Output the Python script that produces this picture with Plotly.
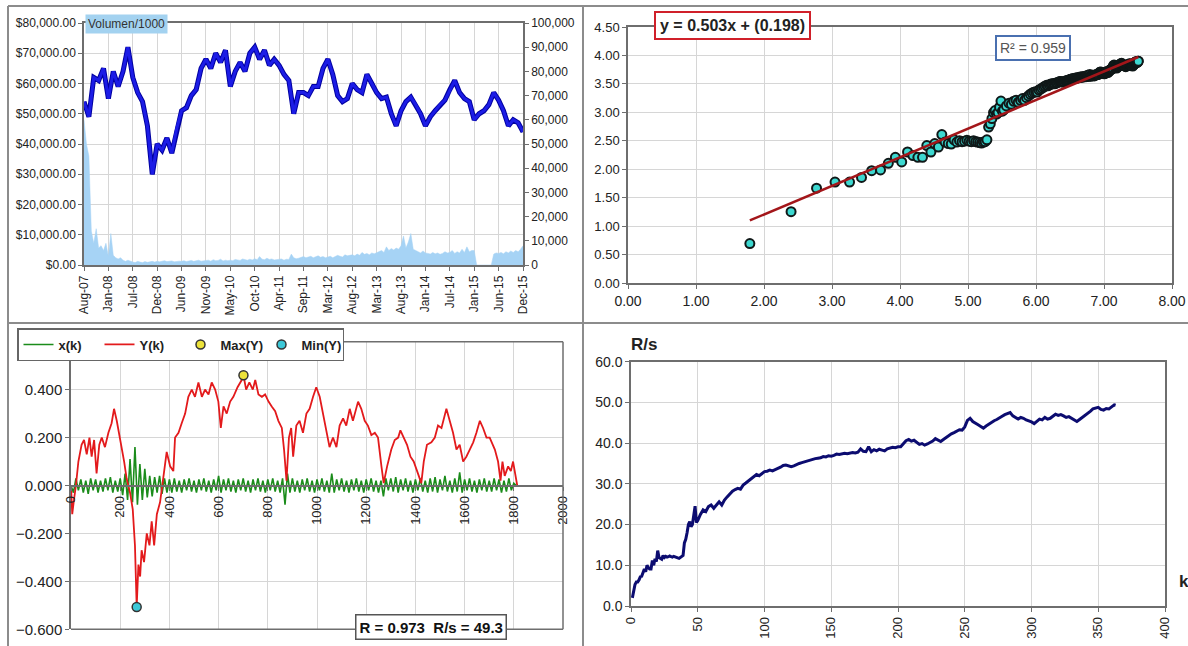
import numpy as np
import plotly.graph_objects as go

W, H = 1188, 646

# ---------------- Panel 1: price & volume ----------------
date_labels = ["Aug-07", "Jan-08", "Jul-08", "Dec-08", "Jun-09", "Nov-09", "May-10", "Oct-10",
               "Apr-11", "Sep-11", "Mar-12", "Aug-12", "Mar-13", "Aug-13", "Jan-14", "Jul-14",
               "Jan-15", "Jun-15", "Dec-15"]

# price, sampled every 0.2 of a tick interval
price = [54000, 49000, 62000, 61000, 65000, 55000, 64000, 59000, 64000, 72000,
         62000, 57000, 54000, 46000, 30000, 40000, 38000, 42000, 37000, 45000,
         51000, 52000, 56000, 58000, 65000, 68000, 65000, 70000, 67000, 71000,
         59000, 64000, 67000, 64000, 70000, 72000, 68000, 71000, 66000, 68000,
         66000, 63000, 61000, 50000, 57000, 57000, 56000, 59000, 59000, 65000,
         68000, 63000, 56000, 54000, 55000, 60000, 58000, 57000, 63000, 60000,
         57000, 55000, 55500, 50000, 46000, 51000, 54000, 55500, 53000, 50000,
         46000, 49000, 51000, 53000, 54500, 58000, 61000, 57000, 55000, 54000,
         48000, 50000, 51000, 53000, 57000, 54500, 51000, 46000, 48000, 47000,
         44000]

# volume / 1000, sampled every 0.1 of a tick interval (right axis)
volume = [60000, 50000, 45000, 14000, 9000, 15000, 7000, 8000, 6000, 9000,
          3500, 13000, 4000, 3000, 2500, 3000, 2000, 1500, 2000, 1500,
          1200, 1000, 1500, 1200, 1000, 1400, 1100, 1300, 1500, 1200,
          1500, 1300, 1600, 1800, 1400, 1500, 1700, 1300, 1500, 1600,
          1500, 1800, 1400, 1600, 1900, 1500, 1700, 2000, 1600, 1800,
          1700, 2000, 1600, 2200, 1800, 1900, 2400, 1700, 2000, 1800,
          2000, 1800, 2300, 2100, 1900, 2500, 2200, 2000, 2400, 2100,
          2600, 2200, 3500, 2400, 2200, 2800, 2300, 2500, 2100, 2300,
          2200, 2500, 2000, 2400, 2300, 4500, 3000, 2600, 2800, 3200,
          3500, 3000, 3200, 3600, 3000, 3400, 3800, 3200, 3500, 3000,
          3200, 3600, 3000, 3500, 4000, 3600, 3300, 4200, 3800, 4000,
          4200, 3800, 4500, 4000, 5200, 4400, 4800, 4200, 5000, 4600,
          5000, 5500, 6000, 5200, 7500, 6000, 6800, 6200, 7000, 6500,
          8000, 12000, 7000, 9500, 13000, 6500, 6000, 5500, 5000, 5800,
          5000, 4800, 4500, 5200, 4600, 5000, 4400, 4800, 5500, 5000,
          5200, 6000, 4800, 5500, 5000, 6500, 5200, 7500, 5500, 6000,
          6000, 0, 0, 0, 0, 0, 0, 0, 4500, 5000,
          4800, 5200, 4600, 5500, 5000, 5800, 5200, 6000, 5500, 6500,
          8000]

price_pos = np.arange(len(price)) / 5.0
vol_pos = np.arange(len(volume)) / 10.0

# ---------------- Panel 4 (and 2): R/s by k ----------------
rs_k = [1, 2, 3, 4, 5, 6, 7, 8, 9, 10, 11, 12, 13, 14, 15, 16, 17, 18, 19, 20,
        21, 22, 23, 24, 25, 26, 27, 28, 29, 30, 31, 32, 33, 34, 35, 36, 37, 38, 39, 40,
        41, 42, 43, 44, 45, 46, 47, 48, 49,
        50, 52, 54, 56, 58, 60, 62, 64, 66, 68,
        70, 72, 74, 76, 78, 80, 82, 84, 86, 88,
        90, 92, 94, 96, 98, 100, 102, 104, 106, 108,
        110, 112, 114, 116, 118, 120, 122, 124, 126, 128,
        130, 132, 134, 136, 138, 140, 142, 144, 146, 148,
        150, 152, 154, 156, 158, 160, 162, 164, 166, 168,
        170, 172, 174, 176, 178, 180, 182, 184, 186, 188,
        190, 192, 194, 196, 198, 200, 202, 204, 206, 208,
        210, 212, 214, 216, 218, 220, 222, 224, 226, 228,
        230, 232, 234, 236, 238, 240, 242, 244, 246, 248,
        250, 252, 254, 256, 258, 260, 262, 264, 266, 268,
        270, 272, 274, 276, 278, 280, 282, 284, 286, 288,
        290, 292, 294, 296, 298, 300, 302, 304, 306, 308,
        310, 312, 314, 316, 318, 320, 322, 324, 326, 328,
        330, 332, 334, 336, 338, 340, 342, 344, 346, 348,
        350, 352, 354, 356, 358, 360, 362, 363]
rs_val = [2.0, 3.5, 5.3, 5.9, 5.9, 6.4, 7.2, 7.3, 8.2, 9.1,
          8.4, 10.0, 9.4, 9.1, 9.1, 11.2, 10.0, 11.6, 10.9, 13.6,
          11.9, 11.6, 11.5, 12.4, 11.9, 12.2, 12.0, 12.1, 12.3, 12.1,
          12.0, 12.2, 12.0, 11.9, 11.8, 11.7, 11.9, 12.0, 12.4, 15.5,
          16.4, 18.0, 20.0, 20.7, 19.5, 20.0, 22.0, 24.5, 20.5,
          21.0, 22.5, 23.6, 23.2, 24.4, 24.8, 24.0, 24.8, 25.6, 24.8,
          26.0, 26.8, 27.6, 28.2, 28.6, 28.9, 28.7, 29.7, 30.2, 30.7,
          31.3, 31.8, 32.3, 32.0, 32.6, 33.0, 33.1, 33.4, 33.2, 33.6,
          33.8, 34.1, 34.5, 34.6, 34.3, 34.2, 34.4, 34.8, 35.0, 35.2,
          35.4, 35.6, 35.9, 36.1, 36.2, 36.3, 36.4, 36.7, 36.6, 36.9,
          36.8, 37.0, 37.3, 37.2, 37.4, 37.5, 37.4, 37.6, 37.7, 37.6,
          37.8, 38.6, 38.0, 37.9, 39.1, 37.9, 38.4, 38.1, 38.5, 38.3,
          38.1, 38.6, 38.9, 39.0, 38.9, 39.1, 39.1, 39.8, 40.6, 40.9,
          40.5, 40.7, 40.2, 39.7, 39.9, 39.5, 39.8, 40.1, 40.5, 41.1,
          40.8, 40.4, 40.9, 41.4, 41.9, 42.3, 42.6, 43.0, 43.3, 43.2,
          44.0, 45.6, 46.1, 45.3, 45.0, 44.5, 44.1, 43.7, 44.2, 44.7,
          45.0, 45.5, 45.8, 46.1, 46.6, 47.0, 47.3, 47.5, 46.7, 46.2,
          45.9, 46.3, 46.1, 45.7, 45.5, 45.2, 44.8, 45.4, 45.9, 45.7,
          46.3, 45.9, 46.1, 46.6, 47.1, 46.8, 47.0, 46.7, 46.3, 46.5,
          46.1, 45.7, 45.3, 45.8, 46.3, 46.6, 47.1, 47.8, 48.4, 48.6,
          48.8, 48.3, 48.1, 48.5, 48.4, 48.9, 49.4, 49.3]

# ---------------- Panel 2: log-log regression ----------------
slope, intercept = 0.503, 0.198
window_n = 5 * np.array(rs_k) + 1          # sample size for each k
ln_n = np.log(window_n)
ln_rs = np.log(np.array(rs_val))
trend_x = [ln_n.min(), ln_n.max()]
trend_y = [slope * v + intercept for v in trend_x]

# ---------------- Panel 3: x(k) and Y(k) ----------------
xk = [0.00, -0.03, 0.03, -0.02, 0.025, -0.03, 0.02, -0.035, 0.03, -0.02,
      0.025, -0.03, 0.02, -0.025, 0.03, -0.02, 0.035, -0.03, 0.02, -0.025,
      0.03, -0.04, 0.05, -0.06, 0.11, -0.07, 0.16, -0.08, 0.09, -0.06,
      0.07, -0.05, 0.04, -0.045, 0.035, -0.03, 0.04, -0.035, 0.03, -0.03,
      0.025, -0.03, 0.03, -0.025, 0.02, -0.03, 0.025, -0.02, 0.03, -0.025,
      0.02, -0.03, 0.025, -0.02, 0.03, -0.025, 0.02, -0.03, 0.025, -0.02,
      0.04, -0.03, 0.025, -0.02, 0.03, -0.025, 0.02, -0.03, 0.025, -0.02,
      0.03, -0.025, 0.02, -0.03, 0.025, -0.02, 0.03, -0.025, 0.02, -0.03,
      0.025, -0.02, 0.03, -0.025, 0.02, -0.03, 0.03, -0.08, 0.05, -0.03,
      0.03, -0.025, 0.02, -0.03, 0.025, -0.02, 0.03, -0.025, 0.02, -0.03,
      0.025, -0.02, 0.03, -0.025, 0.02, -0.03, 0.05, -0.03, 0.025, -0.02,
      0.03, -0.025, 0.02, -0.03, 0.025, -0.02, 0.03, -0.025, 0.02, -0.03,
      0.025, -0.02, 0.03, -0.025, 0.02, -0.03, 0.02, -0.045, 0.03, -0.02,
      0.03, -0.025, 0.035, -0.03, 0.025, -0.02, 0.03, -0.025, 0.02, -0.03,
      0.025, -0.02, 0.03, -0.025, 0.02, -0.03, 0.03, -0.025, 0.035, -0.03,
      0.025, -0.02, 0.04, -0.025, 0.02, -0.03, 0.03, -0.025, 0.055, -0.03,
      0.025, -0.02, 0.03, -0.025, 0.02, -0.03, 0.025, -0.02, 0.03, -0.025,
      0.02, -0.025, 0.03, -0.02, 0.025, -0.03, 0.02, -0.025, 0.03, -0.02,
      0.01, 0.0]
xk_pos = np.arange(len(xk)) * 10

Yk_x = [0, 5, 12, 20, 30, 43, 53, 64, 75, 84,
        94, 104, 115, 125, 138, 152, 165, 175, 186, 199,
        216, 226, 240, 251, 260, 267, 274, 281, 287, 297,
        308, 319, 328, 338, 349, 362, 376, 389, 403, 416,
        423, 437, 450, 464, 477, 491, 504, 518, 532, 545,
        559, 572, 586, 599, 609, 620, 633, 647, 660, 677,
        694, 701, 712, 725, 739, 749, 762, 776, 789, 803,
        816, 830, 843, 857, 866, 876, 886, 895, 903, 916,
        929, 943, 957, 970, 984, 997, 1011, 1024, 1038, 1051,
        1065, 1079, 1092, 1106, 1119, 1133, 1146, 1167, 1180, 1194,
        1207, 1221, 1235, 1248, 1262, 1271, 1285, 1302, 1316, 1330,
        1339, 1353, 1366, 1380, 1393, 1407, 1424, 1434, 1447, 1465,
        1479, 1492, 1506, 1526, 1540, 1553, 1567, 1580, 1594, 1607,
        1621, 1635, 1648, 1662, 1675, 1689, 1702, 1723, 1736, 1746,
        1754, 1763, 1777, 1788, 1797, 1808, 1814]
Yk_y = [0.0, -0.12, -0.06, 0.0, 0.10, 0.17, 0.19, 0.13, 0.20, 0.12,
        0.19, 0.05, 0.17, 0.20, 0.16, 0.22, 0.26, 0.32, 0.27, 0.20,
        0.10, 0.03, -0.03, -0.10, -0.25, -0.507, -0.33, -0.38, -0.27, -0.32,
        -0.20, -0.25, -0.15, -0.25, -0.12, -0.07, 0.03, 0.14, 0.08, 0.06,
        0.20, 0.22, 0.26, 0.30, 0.37, 0.40, 0.37, 0.43, 0.37, 0.40,
        0.38, 0.43, 0.40, 0.35, 0.24, 0.33, 0.30, 0.35, 0.37, 0.41,
        0.44, 0.46, 0.40, 0.43, 0.40, 0.44, 0.38, 0.37, 0.38, 0.35,
        0.33, 0.31, 0.27, 0.24, 0.15, 0.02, 0.20, 0.24, 0.12, 0.25,
        0.27, 0.22, 0.30, 0.32, 0.37, 0.41, 0.37, 0.30, 0.22, 0.16,
        0.20, 0.16, 0.25, 0.28, 0.25, 0.32, 0.27, 0.35, 0.32, 0.27,
        0.25, 0.21, 0.22, 0.20, 0.08, 0.01, 0.08, 0.15, 0.19, 0.20,
        0.23, 0.20, 0.17, 0.12, 0.10, 0.06, 0.01, 0.10, 0.17, 0.18,
        0.20, 0.25, 0.24, 0.32, 0.27, 0.22, 0.15, 0.17, 0.10, 0.12,
        0.15, 0.18, 0.22, 0.27, 0.24, 0.20, 0.20, 0.15, 0.10, 0.02,
        0.10, 0.04, 0.08, 0.06, 0.10, 0.03, 0.0]
max_pt = ([701], [0.46])
min_pt = ([267], [-0.507])

# ---------------- styling ----------------
FONT = "Liberation Sans, Arial, sans-serif"
AX = "#6e6e6e"
GRID = "#d6d6d6"
TXT = "#222222"


def ax(**kw):
    base = dict(showline=True, linecolor=AX, linewidth=1.5, ticks="outside", ticklen=4,
                tickcolor=AX, zeroline=False, showgrid=True, gridcolor=GRID, gridwidth=1,
                tickfont=dict(family=FONT, size=12, color=TXT))
    base.update(kw)
    return base


fig = go.Figure()

# Panel 1
fig.add_trace(go.Scatter(x=vol_pos, y=volume, xaxis="x", yaxis="y", mode="lines",
                         line=dict(color="#a6d3f5", width=0.5), fill="tozeroy",
                         fillcolor="#a6d3f5", showlegend=False, hoverinfo="skip"))
fig.add_trace(go.Scatter(x=price_pos, y=price, xaxis="x", yaxis="y2", mode="lines",
                         line=dict(color="#0000a0", width=5), showlegend=False))
fig.add_trace(go.Scatter(x=price_pos, y=price, xaxis="x", yaxis="y2", mode="lines",
                         line=dict(color="#1c1ce6", width=3), showlegend=False))

# Panel 2
fig.add_trace(go.Scatter(x=ln_n, y=ln_rs, xaxis="x2", yaxis="y3", mode="markers",
                         marker=dict(size=9, color="#3dd8d0", line=dict(color="#101818", width=2)),
                         showlegend=False))
fig.add_trace(go.Scatter(x=trend_x, y=trend_y, xaxis="x2", yaxis="y3", mode="lines",
                         line=dict(color="#a3161a", width=2.5), showlegend=False))

# Panel 3
fig.add_trace(go.Scatter(x=xk_pos, y=xk, xaxis="x3", yaxis="y4", mode="lines", name="x(k)",
                         line=dict(color="#1b8c1b", width=1.6)))
fig.add_trace(go.Scatter(x=Yk_x, y=Yk_y, xaxis="x3", yaxis="y4", mode="lines", name="Y(k)",
                         line=dict(color="#e31a1c", width=1.8)))
fig.add_trace(go.Scatter(x=max_pt[0], y=max_pt[1], xaxis="x3", yaxis="y4", mode="markers",
                         name="Max(Y)",
                         marker=dict(size=9, color="#ece23a", line=dict(color="#333", width=1.5))))
fig.add_trace(go.Scatter(x=min_pt[0], y=min_pt[1], xaxis="x3", yaxis="y4", mode="markers",
                         name="Min(Y)",
                         marker=dict(size=9, color="#3cc8d8", line=dict(color="#333", width=1.5))))

# Panel 4
fig.add_trace(go.Scatter(x=rs_k, y=rs_val, xaxis="x4", yaxis="y5", mode="lines",
                         line=dict(color="#0c0c70", width=3), showlegend=False))

layout_axes = dict(
    xaxis=ax(domain=[84 / W, 523 / W], anchor="y", range=[0, 18], tickvals=list(range(19)),
             ticktext=date_labels, tickangle=-90, mirror=True),
    yaxis=ax(domain=[1 - 265 / H, 1 - 23 / H], anchor="x", side="right", range=[0, 100000],
             dtick=10000, tickformat=",d", showgrid=False),
    yaxis2=ax(overlaying="y", anchor="x", side="left", range=[0, 80000], dtick=10000,
              tickformat="$,.2f"),
    xaxis2=ax(domain=[628 / W, 1172 / W], anchor="y3", range=[0, 8], dtick=1, tickformat=".2f",
              mirror=True, tickfont=dict(family=FONT, size=14, color=TXT)),
    yaxis3=ax(domain=[1 - 283 / H, 1 - 27 / H], anchor="x2", range=[0, 4.5], dtick=0.5,
              tickformat=".2f", mirror=True, tickfont=dict(family=FONT, size=13, color=TXT)),
    xaxis3=ax(domain=[71 / W, 563 / W], anchor="free", position=1 - 486 / H, range=[0, 2000],
              dtick=200, tickangle=-90, tickfont=dict(family=FONT, size=13, color=TXT)),
    yaxis4=ax(domain=[1 - 629.3 / H, 1 - 341.7 / H], anchor="x3", range=[-0.6, 0.6],
              tickvals=[-0.6, -0.4, -0.2, 0.0, 0.2, 0.4], tickformat=".3f",
              tickfont=dict(family=FONT, size=15, color=TXT)),
    xaxis4=ax(domain=[631 / W, 1165 / W], anchor="y5", range=[0, 400], dtick=50, tickangle=-90,
              mirror=True, tickfont=dict(family=FONT, size=13, color=TXT)),
    yaxis5=ax(domain=[1 - 606 / H, 1 - 361.7 / H], anchor="x4", range=[0, 60], dtick=10,
              tickformat=".1f", mirror=True, tickfont=dict(family=FONT, size=14, color=TXT)),
)

frame = "#8c8c8c"
shapes = [
    dict(type="line", xref="paper", yref="paper", x0=8 / W, x1=1, y0=1 - 6 / H, y1=1 - 6 / H,
         line=dict(color=frame, width=2)),
    dict(type="line", xref="paper", yref="paper", x0=8 / W, x1=8 / W, y0=0, y1=1 - 6 / H,
         line=dict(color=frame, width=2)),
    dict(type="line", xref="paper", yref="paper", x0=583 / W, x1=583 / W, y0=0, y1=1 - 6 / H,
         line=dict(color=frame, width=2)),
    dict(type="line", xref="paper", yref="paper", x0=8 / W, x1=1, y0=1 - 323 / H, y1=1 - 323 / H,
         line=dict(color=frame, width=2)),
    dict(type="line", xref="x3 domain", yref="y4 domain", x0=0, x1=1, y0=1, y1=1,
         line=dict(color=AX, width=1.5)),
    dict(type="line", xref="x3 domain", yref="y4 domain", x0=1, x1=1, y0=0, y1=1,
         line=dict(color=AX, width=1.5)),
    dict(type="line", xref="x3 domain", yref="y4 domain", x0=0, x1=1, y0=0, y1=0,
         line=dict(color=AX, width=1.5)),
]

annotations = [
    dict(text="Volumen/1000", xref="paper", yref="paper", x=85 / W, y=1 - 24 / H,
         xanchor="left", yanchor="middle", showarrow=False, bgcolor="#a3d2f0",
         font=dict(family=FONT, size=12, color="#333"), borderpad=2),
    dict(text="<b>y = 0.503x + (0.198)</b>", xref="paper", yref="paper", x=732 / W, y=1 - 25 / H,
         xanchor="center", yanchor="middle", showarrow=False, bgcolor="white",
         bordercolor="#d0202a", borderwidth=2, borderpad=4,
         font=dict(family=FONT, size=16, color="#222")),
    dict(text="R² = 0.959", xref="paper", yref="paper", x=1033 / W, y=1 - 48 / H,
         xanchor="center", yanchor="middle", showarrow=False, bgcolor="white",
         bordercolor="#4a70b0", borderwidth=2, borderpad=3,
         font=dict(family=FONT, size=14, color="#555")),
    dict(text="<b>R = 0.973  R/s = 49.3</b>", xref="paper", yref="paper", x=431 / W, y=1 - 627 / H,
         xanchor="center", yanchor="middle", showarrow=False, bgcolor="white",
         bordercolor="#555", borderwidth=1.5, borderpad=3,
         font=dict(family=FONT, size=15, color="#111")),
    dict(text="<b>R/s</b>", xref="paper", yref="paper", x=629 / W, y=1 - 344 / H,
         xanchor="left", yanchor="middle", showarrow=False,
         font=dict(family=FONT, size=17, color="#222")),
    dict(text="<b>k</b>", xref="paper", yref="paper", x=1177 / W, y=1 - 581 / H,
         xanchor="left", yanchor="middle", showarrow=False,
         font=dict(family=FONT, size=17, color="#222")),
]

fig.update_layout(
    width=W, height=H, autosize=False, template="none",
    margin=dict(l=0, r=0, t=0, b=0),
    paper_bgcolor="white", plot_bgcolor="white",
    font=dict(family=FONT, size=12, color=TXT),
    showlegend=True,
    legend=dict(orientation="h", x=17 / W, y=1 - 328 / H, xanchor="left", yanchor="top",
                bgcolor="white", bordercolor="#666", borderwidth=1.5,
                font=dict(family=FONT, size=13, color="#222", weight="bold"),
                entrywidth=36, entrywidthmode="pixels", itemwidth=30,
                tracegroupgap=0),
    shapes=shapes,
    annotations=annotations,
    **layout_axes,
)

fig.write_html("out.html")
